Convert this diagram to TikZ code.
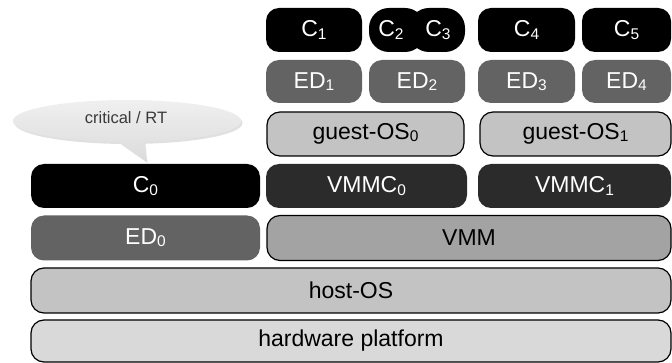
\documentclass[tikz,border=0pt]{standalone}
\usepackage{fontspec}
\setmainfont{Liberation Sans}
\definecolor{edgray}{HTML}{636363}
\definecolor{vmmcgray}{HTML}{2B2B2B}
\definecolor{osgray}{HTML}{C3C3C3}
\definecolor{vmmgray}{HTML}{A3A3A3}
\definecolor{hwgray}{HTML}{D9D9D9}
\definecolor{bubbletext}{HTML}{3A3A3A}
\newcommand\subnum[1]{\raisebox{-0.1em}{\fontsize{15.5}{15.5}\selectfont #1}}
\tikzset{
  blk/.style={rounded corners=13pt, minimum height=44pt, inner sep=0pt,
    font=\fontsize{23}{23}\selectfont},
  cbox/.style={blk, fill=black, text=white},
  cpiece/.style={cbox, rounded corners=20pt},
  edbox/.style={blk, fill=edgray, text=white},
  vmmcbox/.style={blk, fill=vmmcgray, text=white},
  outlined/.style={blk, draw=black, line width=1.2pt, text=black},
  osbox/.style={outlined, fill=osgray},
  vmmbox/.style={outlined, fill=vmmgray},
  hwbox/.style={outlined, fill=hwgray},
}
\begin{document}
\begin{tikzpicture}[x=1pt, y=-1pt]
\useasboundingbox (0,0) rectangle (672,363);

% applications on top of the guests
\node[cbox, minimum width=96pt] (c1) at (314,30) {C\subnum{1}};
\node[cpiece, minimum width=56pt] (c2) at (397,30) {\hspace*{-12pt}C\subnum{2}};
\node[cpiece, minimum width=56pt] (c3) at (437,30) {\hspace*{2pt}C\subnum{3}};
\node[cbox, minimum width=97pt] (c4) at (526.5,30) {C\subnum{4}};
\node[cbox, minimum width=89pt] (c5) at (626.5,30) {C\subnum{5}};

% execution domains of the guests
\node[edbox, minimum width=96pt, minimum height=43pt] (ed1) at (314,81.5) {ED\subnum{1}};
\node[edbox, minimum width=96pt, minimum height=43pt] (ed2) at (417,81.5) {ED\subnum{2}};
\node[edbox, minimum width=97pt, minimum height=43pt] (ed3) at (526.5,81.5) {ED\subnum{3}};
\node[edbox, minimum width=89pt, minimum height=43pt] (ed4) at (626.5,81.5) {ED\subnum{4}};

% guest operating systems
\node[osbox, minimum width=197pt] (gos0) at (365.5,134) {guest-OS\subnum{0}};
\node[osbox, minimum width=191pt] (gos1) at (575.5,134) {guest-OS\subnum{1}};

% critical component and VM monitors
\node[cbox, minimum width=229pt] (c0) at (145.5,186) {C\subnum{0}};
\node[vmmcbox, minimum width=201pt] (vmmc0) at (366.5,186) {VMMC\subnum{0}};
\node[vmmcbox, minimum width=193pt] (vmmc1) at (574.5,186) {VMMC\subnum{1}};

% host-level domain and hypervisor
\node[edbox, minimum width=229pt, minimum height=45pt] (ed0) at (145.5,238) {ED\subnum{0}};
\node[vmmbox, minimum width=404pt, minimum height=45pt] (vmm) at (469,238) {VMM};

% base layers
\node[osbox, minimum width=640pt, minimum height=45pt] (host) at (351,290.5) {host-OS};
\node[hwbox, minimum width=640pt, minimum height=42pt] (hw) at (351,341) {hardware platform};

% speech bubble over C0
\fill[black, opacity=0.12] (128.5,123) ellipse [x radius=114pt, y radius=21pt]
  (115,140) -- (147.5,163) -- (145,140) -- cycle;
\shade[top color=gray!12, bottom color=gray!28]
  (127,121) ellipse [x radius=114pt, y radius=21pt]
  (113,138) -- (146,161) -- (143,138) -- cycle;
\node[text=bubbletext, font=\fontsize{16.5}{16.5}\selectfont] (crit) at (126,118) {critical / RT};
\end{tikzpicture}
\end{document}
